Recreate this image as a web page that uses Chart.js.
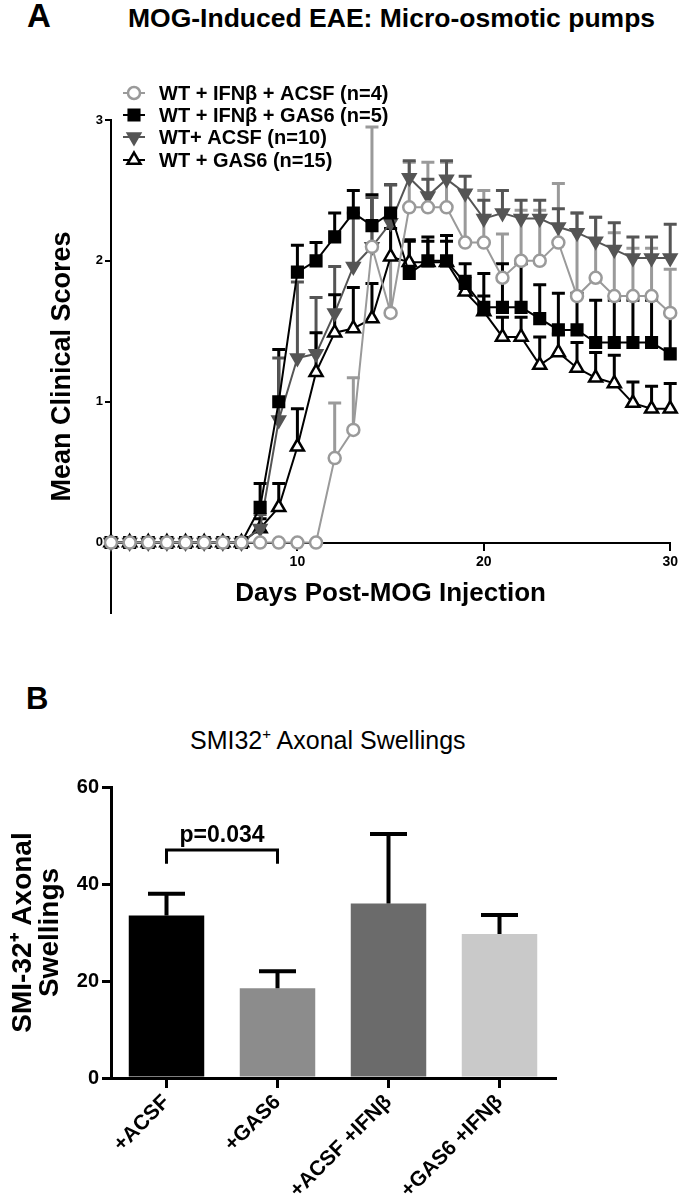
<!DOCTYPE html>
<html><head><meta charset="utf-8">
<script src="https://cdn.jsdelivr.net/npm/chart.js@4.4.1/dist/chart.umd.min.js"></script>
<style>
html,body{margin:0;padding:0;background:#fff;width:682px;height:1199px;overflow:hidden;font-family:"Liberation Sans",Arial,sans-serif;}
.abs{position:absolute;white-space:nowrap;color:#000;line-height:1;}
canvas{position:absolute;left:0;}
#c1{top:0;}
#c2{top:630px;}
sup{font-size:60%;vertical-align:top;position:relative;top:-2px;}
</style></head><body>
<div class="abs" style="left:27px;top:-1px;font-size:33px;font-weight:bold;">A</div>
<div class="abs" style="left:128px;top:5px;font-size:26.5px;font-weight:bold;">MOG-Induced EAE: Micro-osmotic pumps</div>
<div class="abs" style="left:26px;top:683px;font-size:31px;font-weight:bold;">B</div>
<div class="abs" style="left:190px;top:728px;font-size:25px;">SMI32<sup>+</sup> Axonal Swellings</div>
<canvas id="c1" width="682" height="640"></canvas>
<canvas id="c2" width="682" height="569"></canvas>
<script>
// ---------- Panel A data ----------
const days = [0,1,2,3,4,5,6,7,8,9,10,11,12,13,14,15,16,17,18,19,20,21,22,23,24,25,26,27,28,29,30];
const seriesLabels = ['WT + IFNβ + ACSF (n=4)', 'WT + IFNβ + GAS6 (n=5)', 'WT+ ACSF (n=10)', 'WT + GAS6 (n=15)'];
const ifnAcsfMean = [0,0,0,0,0,0,0,0,0,0,0,0,0.6,0.8,2.1,1.63,2.38,2.38,2.38,2.13,2.13,1.88,2.0,2.0,2.13,1.75,1.88,1.75,1.75,1.75,1.63];
const ifnAcsfErr  = [0,0,0,0,0,0,0,0,0,0,0,0,0.39,0.37,0.85,0.6,0.32,0.32,0.32,0.37,0.37,0.31,0.36,0.36,0.42,0.59,0.43,0.45,0.34,0.34,0.31];
const ifnGas6Mean = [0,0,0,0,0,0,0,0,0.25,1.0,1.92,2.0,2.17,2.34,2.25,2.34,1.91,2.0,2.0,1.84,1.67,1.67,1.67,1.59,1.51,1.51,1.42,1.42,1.42,1.42,1.34];
const ifnGas6Err  = [0,0,0,0,0,0,0,0,0.17,0.37,0.19,0.13,0.17,0.16,0.22,0.2,0.24,0.17,0.18,0.14,0.24,0.31,0.31,0.24,0.26,0.26,0.3,0.3,0.3,0.3,0.29];
const acsfMean    = [0,0,0,0,0,0,0,0,0.1,0.87,1.31,1.34,1.63,1.96,2.1,2.27,2.59,2.46,2.58,2.48,2.30,2.34,2.30,2.30,2.24,2.20,2.14,2.08,2.02,2.02,2.02];
const acsfErr     = [0,0,0,0,0,0,0,0,0.1,0.44,0.54,0.4,0.33,0.38,0.35,0.27,0.12,0.12,0.13,0.12,0.13,0.16,0.13,0.13,0.13,0.14,0.17,0.19,0.15,0.15,0.24];
const gas6Mean    = [0,0,0,0,0,0,0,0,0.1,0.25,0.68,1.21,1.49,1.52,1.59,2.03,1.99,1.99,1.99,1.78,1.64,1.46,1.46,1.26,1.35,1.24,1.17,1.13,0.99,0.95,0.95];
const gas6Err     = [0,0,0,0,0,0,0,0,0.07,0.17,0.27,0.28,0.27,0.29,0.25,0.2,0.15,0.15,0.15,0.11,0.11,0.14,0.14,0.2,0.13,0.18,0.18,0.2,0.15,0.16,0.18];
const xTicksA = [10,20,30];
const yTicksA = [0,1,2,3];

// ---------- Panel B data ----------
const barCats   = ['+ACSF', '+GAS6', '+ACSF +IFNβ', '+GAS6 +IFNβ'];
const barMeans  = [33.5, 18.5, 36.0, 29.7];
const barErrs   = [4.5, 3.5, 14.3, 3.9];
const barColors = ['#000000', '#8c8c8c', '#6b6b6b', '#c9c9c9'];
const yTicksB = [0,20,40,60];
const sigPair = [0, 1];
const sigLevel = 47;
const sigLabel = 'p=0.034';

const FONT = '"Liberation Sans", Arial, sans-serif';

function errorBarPlugin(phase) {
  const draw = (chart) => {
    const ctx = chart.ctx, yS = chart.scales.y;
    chart.data.datasets.forEach((ds, di) => {
      if (!ds.errorBars) return;
      const meta = chart.getDatasetMeta(di);
      meta.data.forEach((el, i) => {
        const e = ds.errorBars[i];
        if (!e) return;
        const raw = ds.data[i];
        const v = (typeof raw === 'object') ? raw.y : raw;
        const x = el.x, y0 = yS.getPixelForValue(v), y1 = yS.getPixelForValue(v + e);
        const col = Array.isArray(ds.errorColor) ? ds.errorColor[i] : ds.errorColor;
        const cw = ds.errorCapWidth;
        ctx.save();
        ctx.strokeStyle = col; ctx.lineWidth = ds.errorLineWidth; ctx.lineCap = 'butt';
        ctx.beginPath();
        ctx.moveTo(x, y0); ctx.lineTo(x, y1);
        ctx.moveTo(x - cw / 2, y1); ctx.lineTo(x + cw / 2, y1);
        ctx.stroke();
        ctx.restore();
      });
    });
  };
  return phase === 'before' ? {id: 'errB', beforeDatasetsDraw: draw} : {id: 'errA', afterDatasetsDraw: draw};
}

const legendPlugin = {
  id: 'customLegend',
  afterDraw(chart) {
    const ctx = chart.ctx;
    const rows = [93, 115, 137, 160];
    chart.data.datasets.forEach((ds, i) => {
      const y = rows[i];
      ctx.save();
      ctx.strokeStyle = ds.borderColor; ctx.lineWidth = 2;
      ctx.beginPath(); ctx.moveTo(123, y); ctx.lineTo(145, y); ctx.stroke();
      ctx.fillStyle = ds.pointBackgroundColor; ctx.strokeStyle = ds.pointBorderColor; ctx.lineWidth = ds.pointBorderWidth;
      Chart.helpers.drawPoint(ctx, {pointStyle: ds.pointStyle, radius: ds.pointRadius, rotation: ds.pointRotation || 0, borderWidth: ds.pointBorderWidth}, 134, y);
      ctx.fillStyle = '#000'; ctx.font = 'bold 20px ' + FONT; ctx.textBaseline = 'middle'; ctx.textAlign = 'left';
      ctx.fillText(ds.label, 159, y + 1);
      ctx.restore();
    });
  }
};

function pts(arr) { return days.map((d, i) => ({x: d, y: arr[i]})); }

function lineDs(label, mean, err, color, style, rot, fill, radius) {
  return {
    label, data: pts(mean), errorBars: err, errorColor: color, errorLineWidth: 3, errorCapWidth: 13,
    borderColor: color, borderWidth: 2, pointStyle: style, pointRotation: rot, pointRadius: radius, pointHoverRadius: radius,
    pointBackgroundColor: fill, pointBorderColor: color, pointBorderWidth: 2.5, clip: false, tension: 0
  };
}

new Chart(document.getElementById('c1'), {
  type: 'line',
  data: {
    datasets: [
      lineDs(seriesLabels[0], ifnAcsfMean, ifnAcsfErr, '#9a9a9a', 'circle', 0, '#ffffff', 6),
      lineDs(seriesLabels[1], ifnGas6Mean, ifnGas6Err, '#000000', 'rect', 0, '#000000', 7.5),
      lineDs(seriesLabels[2], acsfMean, acsfErr, '#555555', 'triangle', 180, '#555555', 7),
      lineDs(seriesLabels[3], gas6Mean, gas6Err, '#000000', 'triangle', 0, '#ffffff', 7.5)
    ]
  },
  options: {
    responsive: false, animation: false, devicePixelRatio: 1,
    layout: {padding: {top: 120, right: 10, bottom: 27, left: 0}},
    plugins: {legend: {display: false}, tooltip: {enabled: false}},
    scales: {
      x: {
        type: 'linear', min: 0, max: 30, position: {y: 0},
        afterBuildTicks: s => { s.ticks = xTicksA.map(v => ({value: v})); },
        grid: {display: true, drawOnChartArea: false, drawTicks: true, tickLength: 7, lineWidth: 2, color: '#000'},
        border: {display: true, width: 2, color: '#000'},
        ticks: {color: '#000', font: {family: FONT, size: 14, weight: 'bold'}, padding: 4, maxRotation: 0},
        title: {display: true, text: 'Days Post-MOG Injection', color: '#000', font: {family: FONT, size: 26, weight: 'bold'}, padding: {top: 4, bottom: 0}}
      },
      y: {
        min: -0.5, max: 3,
        afterBuildTicks: s => { s.ticks = yTicksA.map(v => ({value: v})); },
        afterFit: s => { s.width = 111; },
        grid: {display: true, drawOnChartArea: false, drawTicks: true, tickLength: 6, lineWidth: 2, color: '#000'},
        border: {display: true, width: 2, color: '#000'},
        ticks: {color: '#000', font: {family: FONT, size: 13, weight: 'bold'}, padding: 2},
        title: {display: true, text: 'Mean Clinical Scores', color: '#000', font: {family: FONT, size: 27, weight: 'bold', lineHeight: 1}, padding: {top: 49, bottom: 0}}
      }
    }
  },
  plugins: [errorBarPlugin('before'), legendPlugin]
});

const sigPlugin = {
  id: 'sig',
  afterDraw(chart) {
    const ctx = chart.ctx, xS = chart.scales.x, yS = chart.scales.y;
    const x0 = xS.getPixelForValue(sigPair[0]), x1 = xS.getPixelForValue(sigPair[1]);
    const y = yS.getPixelForValue(sigLevel), yd = yS.getPixelForValue(sigLevel - 2.8);
    ctx.save();
    ctx.strokeStyle = '#000'; ctx.lineWidth = 3;
    ctx.beginPath();
    ctx.moveTo(x0, yd); ctx.lineTo(x0, y); ctx.lineTo(x1, y); ctx.lineTo(x1, yd);
    ctx.stroke();
    ctx.fillStyle = '#000'; ctx.font = 'bold 23px ' + FONT; ctx.textAlign = 'center'; ctx.textBaseline = 'bottom';
    ctx.fillText(sigLabel, (x0 + x1) / 2, y - 3);
    ctx.restore();
  }
};

new Chart(document.getElementById('c2'), {
  type: 'bar',
  data: {
    labels: barCats,
    datasets: [{
      data: barMeans, backgroundColor: barColors, borderWidth: 0,
      errorBars: barErrs, errorColor: '#000', errorLineWidth: 4, errorCapWidth: 37,
      barPercentage: 0.68, categoryPercentage: 1
    }]
  },
  options: {
    responsive: false, animation: false, devicePixelRatio: 1,
    layout: {padding: {top: 157, right: 127, bottom: 0, left: 0}},
    plugins: {legend: {display: false}, tooltip: {enabled: false}},
    scales: {
      x: {
        afterFit: s => { s.height = 121; },
        grid: {display: true, drawOnChartArea: false, drawTicks: true, offset: false, tickLength: 10, lineWidth: 3, color: '#000'},
        border: {display: true, width: 3, color: '#000'},
        ticks: {color: '#000', font: {family: FONT, size: 21, weight: 'bold'}, minRotation: 45, maxRotation: 45, padding: 2}
      },
      y: {
        min: 0, max: 60,
        afterBuildTicks: s => { s.ticks = yTicksB.map(v => ({value: v})); },
        afterFit: s => { s.width = 111; },
        grid: {display: true, drawOnChartArea: false, drawTicks: true, tickLength: 9, lineWidth: 3, color: '#000'},
        border: {display: true, width: 3, color: '#000'},
        ticks: {color: '#000', font: {family: FONT, size: 20, weight: 'bold'}, padding: 3},
        title: {display: true, text: ['SMI-32⁺ Axonal', 'Swellings'], color: '#000', font: {family: FONT, size: 28, weight: 'bold', lineHeight: 0.95}, padding: {top: 10, bottom: 0}}
      }
    }
  },
  plugins: [errorBarPlugin('after'), sigPlugin]
});
</script>
</body></html>
